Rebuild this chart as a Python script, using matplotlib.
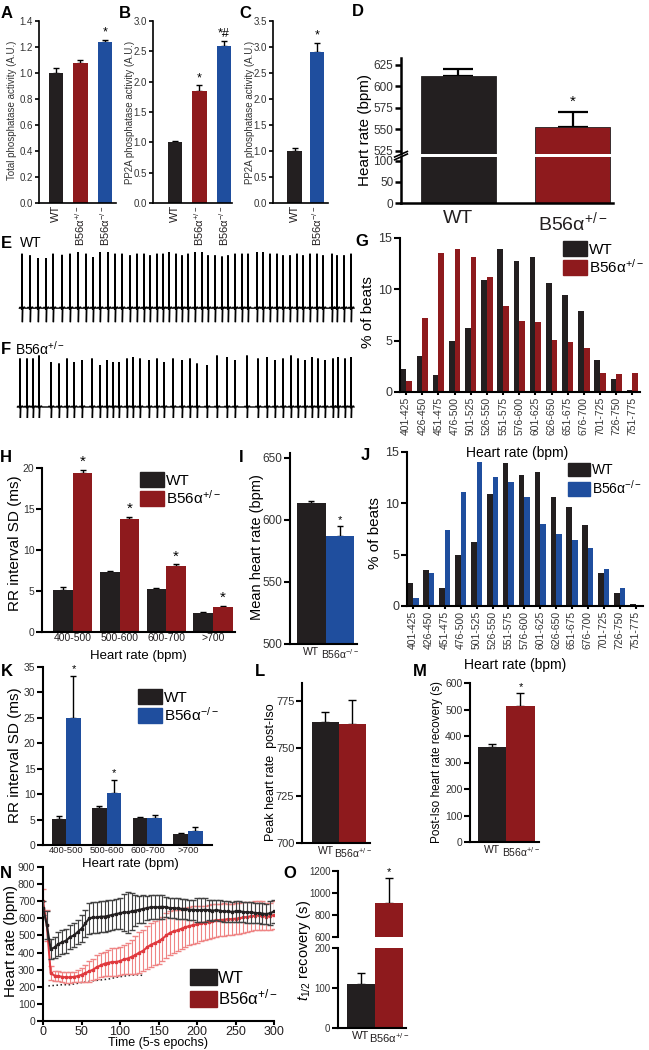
import numpy as np
import matplotlib.pyplot as plt
from matplotlib.patches import Patch

plt.rcParams['font.family'] = ['Liberation Sans', 'DejaVu Sans']
plt.rcParams['mathtext.fontset'] = 'custom'
plt.rcParams['mathtext.rm'] = 'Liberation Sans'
plt.rcParams['mathtext.it'] = 'Liberation Sans:italic'
plt.rcParams['mathtext.bf'] = 'Liberation Sans:bold'

W, H = 649, 1050
BLACK = '#231f20'
RED = '#8e1a1d'
BLUE = '#1f4e9e'
NRED = '#e0393e'
NRED_ERR = '#ef8585'
GREY = '#333333'
HET = 'B56α$^{+/-}$'
KO = 'B56α$^{-/-}$'

# --- A, B, C: phosphatase activity
a_mean = [1.0, 1.08, 1.235]
a_err = [0.035, 0.02, 0.02]
b_mean = [1.0, 1.85, 2.58]
b_err = [0.025, 0.09, 0.09]
c_mean = [1.0, 2.9]
c_err = [0.05, 0.18]

# --- D: heart rate
d_mean = [612, 553]
d_err = [8, 17]

# --- E / F: ECG beats (time, amplitude)
e_beats = [22, 30, 38, 46, 53, 62, 70, 78, 86, 93, 100, 108, 115, 122, 130, 137,
           144, 150, 157, 163, 169, 176, 182, 188, 195, 202, 208, 215, 222, 228,
           235, 242, 248, 257, 263, 270, 277, 283, 290, 297, 303, 310, 317, 323,
           332, 337, 344, 351]
e_amps = [0.97, 0.94, 0.89, 0.89, 0.97, 0.95, 0.97, 1.0, 0.97, 0.91, 1.0, 1.0,
          0.97, 0.97, 0.94, 0.97, 0.97, 0.94, 0.97, 0.97, 1.0, 0.97, 0.94, 0.97,
          1.0, 1.0, 0.94, 0.94, 0.92, 0.94, 0.97, 0.97, 0.97, 1.0, 1.0, 0.97,
          0.97, 0.94, 0.94, 0.97, 0.94, 0.97, 0.97, 0.94, 0.97, 0.94, 0.94, 0.97]
f_beats = [20, 27, 33, 39, 51, 59, 67, 74, 82, 92, 100, 107, 113, 119, 127, 133,
           140, 149, 157, 164, 173, 182, 190, 197, 207, 217, 227, 235, 247, 258,
           267, 275, 283, 291, 298, 305, 312, 318, 325, 333, 338, 345, 351]
f_amps = [0.97, 0.97, 0.97, 1.03, 0.9, 0.87, 0.97, 0.9, 0.94, 0.97, 0.84, 0.94,
          0.9, 0.9, 0.97, 1.0, 0.97, 0.94, 0.97, 0.9, 0.97, 0.94, 0.97, 0.87,
          0.84, 1.03, 1.0, 0.94, 1.03, 0.97, 1.0, 0.94, 0.97, 1.03, 0.97, 0.94,
          1.0, 0.97, 0.94, 0.97, 1.0, 0.97, 1.0]

# --- G / J: heart rate histograms
hr_bins = ['401-425', '426-450', '451-475', '476-500', '501-525', '526-550',
           '551-575', '576-600', '601-625', '626-650', '651-675', '676-700',
           '701-725', '726-750', '751-775']
g_wt = [2.24, 3.47, 1.69, 4.93, 6.23, 10.88, 13.96, 12.73, 13.15, 10.62, 9.42,
        7.92, 3.15, 1.3, 0.16]
g_het = [1.04, 7.2, 13.5, 13.96, 13.15, 11.2, 8.34, 6.95, 6.79, 5.1, 4.9, 4.29,
         1.85, 1.75, 1.85]
j_wt = [2.2, 3.46, 1.72, 4.96, 6.22, 10.88, 13.97, 12.73, 13.1, 10.6, 9.6, 7.9,
        3.17, 1.3, 0.2]
j_ko = [0.75, 3.17, 7.45, 11.1, 14.0, 12.6, 12.08, 10.6, 8.0, 7.0, 6.4, 5.67,
        3.63, 1.72, 0.0]

# --- H / K: RR interval SD
rr_groups = ['400-500', '500-600', '600-700', '>700']
h_wt = [5.1, 7.3, 5.2, 2.3]
h_wt_err = [0.4, 0.2, 0.2, 0.1]
h_het = [19.4, 13.8, 8.1, 3.1]
h_het_err = [0.4, 0.25, 0.15, 0.1]
k_wt = [5.2, 7.3, 5.3, 2.2]
k_wt_err = [0.5, 0.3, 0.3, 0.2]
k_ko = [25.0, 10.3, 5.3, 2.7]
k_ko_err = [8.3, 2.5, 0.6, 0.9]

# --- I: mean heart rate
i_mean = [614, 587]
i_err = [1.5, 8]

# --- L, M, O: isoproterenol
l_mean = [764, 763]
l_err = [5, 12.5]
m_mean = [360, 512]
m_err = [11, 52]
o_mean = [110, 909]
o_err = [27, 227]

# --- N: heart rate time course (every 5 epochs)
epochs = np.arange(0, 301, 5)
wt_mean = [660, 560, 420, 430, 450, 460, 470, 490, 500, 520,
           540, 570, 600, 605, 605, 610, 610, 615, 620, 625,
           630, 635, 635, 640, 645, 650, 655, 660, 665, 665,
           665, 668, 665, 660, 660, 658, 655, 655, 650, 650,
           648, 648, 650, 648, 645, 648, 645, 640, 640, 638,
           640, 640, 638, 635, 635, 632, 630, 628, 625, 630, 640]
wt_err = [40, 80, 60, 60, 70, 70, 70, 70, 70, 70,
          80, 80, 90, 90, 90, 90, 90, 90, 90, 90,
          90, 110, 120, 110, 90, 80, 80, 70, 70, 70,
          70, 70, 60, 60, 60, 60, 60, 60, 60, 60,
          70, 70, 70, 60, 60, 60, 60, 60, 60, 60,
          60, 60, 60, 60, 60, 60, 60, 60, 60, 70, 70]
het_mean = [700, 560, 280, 265, 262, 258, 255, 255, 258, 262,
            270, 280, 290, 300, 315, 325, 335, 340, 345, 345,
            350, 360, 365, 375, 385, 400, 410, 430, 445, 455,
            465, 480, 500, 515, 525, 530, 540, 548, 555, 560,
            565, 570, 575, 580, 585, 588, 590, 592, 595, 595,
            598, 600, 605, 608, 612, 615, 618, 615, 610, 612, 620]
het_err = [70, 90, 40, 30, 30, 30, 30, 30, 30, 35,
           40, 50, 60, 60, 70, 70, 70, 75, 80, 80,
           80, 85, 90, 100, 110, 120, 120, 125, 130, 130,
           130, 130, 130, 130, 125, 120, 120, 115, 110, 110,
           110, 105, 100, 100, 100, 95, 95, 95, 90, 90,
           90, 90, 90, 90, 85, 85, 85, 85, 80, 80, 80]
dot_epochs = [7, 15, 25, 35, 45, 55, 65, 75, 85, 95, 105, 115, 125, 130]
dot_vals = [205, 208, 212, 212, 220, 230, 235, 240, 245, 255, 262, 268, 270, 265]


fig = plt.figure(figsize=(W / 100, H / 100), dpi=100)


def add_ax(l, t, r, b):
    return fig.add_axes([l / W, 1 - b / H, (r - l) / W, (b - t) / H])


def ftext(x, y, s, **kw):
    return fig.text(x / W, 1 - y / H, s, **kw)


def style(ax, lw=1.2, size=7, color=GREY):
    for s in ['top', 'right']:
        ax.spines[s].set_visible(False)
    for s in ['left', 'bottom']:
        ax.spines[s].set_linewidth(lw)
    ax.tick_params(width=lw, length=3, labelsize=size, labelcolor=color,
                   direction='out', pad=1.5)


def bars(ax, x, means, errs, colors, width, capsize, lw=1.0):
    ax.bar(x, means, width, color=colors, zorder=2)
    ax.errorbar(x, means, yerr=[np.zeros(len(errs)), errs], fmt='none',
                ecolor='k', elinewidth=lw, capsize=capsize, capthick=lw, zorder=1)


def legend(color2, label2, x, y, fs=11):
    handles = [Patch(color=BLACK), Patch(color=color2)]
    fig.legend(handles, ['WT', label2], loc='upper left',
               bbox_to_anchor=(x / W, 1 - y / H), frameon=False, fontsize=fs,
               handlelength=1.6, handleheight=1.1, handletextpad=0.1,
               labelspacing=0.1, borderpad=0, borderaxespad=0)


def star(ax, x, y, s='*', fs=9):
    ax.text(x, y, s, ha='center', va='bottom', fontsize=fs)


# ---------------- A
ax = add_ax(39, 21, 116, 203)
style(ax)
bars(ax, [0, 1, 2], a_mean, a_err, [BLACK, RED, BLUE], 0.6, 2.5)
ax.set_xlim(-0.69, 2.45)
ax.set_ylim(0, 1.4)
ax.set_yticks(np.arange(0, 1.41, 0.2))
ax.set_yticklabels(['%.1f' % v for v in np.arange(0, 1.41, 0.2)])
ax.set_xticks([0, 1, 2])
ax.set_xticklabels(['WT', HET, KO], rotation=90, fontsize=8, color=BLACK)
ax.tick_params(axis='x', length=0)
star(ax, 2, a_mean[2] + a_err[2] + 0.01)
ftext(12, 110, 'Total phosphatase activity (A.U.)', rotation=90, ha='center',
      va='center', fontsize=7, color=GREY)

# ---------------- B
ax = add_ax(153, 21, 232, 203)
style(ax)
bars(ax, [0, 1, 2], b_mean, b_err, [BLACK, RED, BLUE], 0.6, 2.5)
ax.set_xlim(-0.9, 2.33)
ax.set_ylim(0, 3.0)
ax.set_yticks(np.arange(0, 3.01, 0.5))
ax.set_yticklabels(['%.1f' % v for v in np.arange(0, 3.01, 0.5)])
ax.set_xticks([0, 1, 2])
ax.set_xticklabels(['WT', HET, KO], rotation=90, fontsize=8, color=BLACK)
ax.tick_params(axis='x', length=0)
star(ax, 1, b_mean[1] + b_err[1] + 0.02)
star(ax, 2, b_mean[2] + b_err[2] + 0.02, '*#')
ftext(130, 112, 'PP2A phosphatase activity (A.U.)', rotation=90, ha='center',
      va='center', fontsize=7, color=GREY)

# ---------------- C
ax = add_ax(273, 21, 328, 203)
style(ax)
bars(ax, [0, 1], c_mean, c_err, [BLACK, BLUE], 0.65, 2.5)
ax.set_xlim(-0.96, 1.49)
ax.set_ylim(0, 3.5)
ax.set_yticks(np.arange(0, 3.51, 0.5))
ax.set_yticklabels(['%.1f' % v for v in np.arange(0, 3.51, 0.5)])
ax.set_xticks([0, 1])
ax.set_xticklabels(['WT', KO], rotation=90, fontsize=8, color=BLACK)
ax.tick_params(axis='x', length=0)
star(ax, 1, c_mean[1] + c_err[1] + 0.03)
ftext(250, 112, 'PP2A phosphatase activity (A.U.)', rotation=90, ha='center',
      va='center', fontsize=7, color=GREY)

# ---------------- D (broken axis)
ax_u = add_ax(401, 58, 613, 154)
ax_l = add_ax(401, 157, 613, 203)
for a in (ax_u, ax_l):
    style(a, lw=1.8, size=8.5)
    a.tick_params(length=4)
    a.bar([0, 1], d_mean, 0.66, color=[BLACK, RED], edgecolor=BLACK,
          linewidth=0.6, zorder=2)
    a.set_xlim(-0.504, 1.355)
ax_u.errorbar([0, 1], d_mean, yerr=[[0, 0], d_err], fmt='none', ecolor='k',
              elinewidth=1.6, capsize=11, capthick=1.6, zorder=1)
ax_u.set_ylim(521.5, 633)
ax_u.set_yticks([525, 550, 575, 600, 625])
ax_u.spines['bottom'].set_visible(False)
ax_u.set_xticks([])
ax_l.set_ylim(0, 109.5)
ax_l.set_yticks([0, 50, 100])
ax_l.set_xticks([0, 1])
ax_l.set_xticklabels(['WT', HET], fontsize=14, color=BLACK)
ax_l.tick_params(axis='x', length=0, pad=5)
star(ax_u, 1, d_mean[1] + d_err[1] + 4, fs=11)
ax_u.plot([-0.03, 0.03], [-0.06, 0.0], transform=ax_u.transAxes, color='k',
          lw=1.2, clip_on=False)
ax_l.plot([-0.03, 0.03], [1.0, 1.12], transform=ax_l.transAxes, color='k',
          lw=1.2, clip_on=False)
ftext(365, 130, 'Heart rate (bpm)', rotation=90, ha='center', va='center',
      fontsize=11)


# ---------------- E / F traces
def ecg(ax, beats, amps, depth):
    # shape of one beat around its R peak: (offset, level); 'R' = peak, 'S' = trough
    shape = [(-2.6, 0.0), (-1.9, 0.02), (-1.2, 0.0), (-0.3, -0.02), (0.0, 'R'),
             (0.4, 'S'), (0.8, 0.02), (1.6, 0.0), (2.4, 0.025), (3.0, 0.0)]
    xs, ys = [], []
    for b, a in zip(beats, amps):
        for ox, oy in shape:
            xs.append(b + ox)
            if oy == 'R':
                ys.append(a)
            elif oy == 'S':
                ys.append(-depth)
            else:
                ys.append(oy)
    ax.plot(xs, ys, color='k', lw=1.0, solid_joinstyle='miter')
    ax.set_xlim(10, 355)
    ax.axis('off')


ax = add_ax(10, 245, 355, 325)
ecg(ax, e_beats, e_amps, 0.25)
ax.set_ylim(-0.30, 1.125)
ax = add_ax(10, 350, 355, 422)
ecg(ax, f_beats, f_amps, 0.22)
ax.set_ylim(-0.30, 1.14)
ftext(20, 243, 'WT', fontsize=10, va='center')
ftext(15, 349, HET, fontsize=10, va='center')


# ---------------- G / J histograms
def hist_panel(ax, wt, other, color, lw=1.5):
    style(ax, lw=lw, size=7.5)
    x = np.arange(len(hr_bins))
    ax.bar(x - 0.175, wt, 0.35, color=BLACK)
    ax.bar(x + 0.175, other, 0.35, color=color)
    ax.set_ylim(0, 15)
    ax.set_yticks([0, 5, 10, 15])
    ax.set_xlim(-0.38, 14.47)
    ax.set_xticks(x)
    ax.set_xticklabels(hr_bins, rotation=90, fontsize=7.5)
    ax.tick_params(axis='y', labelsize=9, length=4)
    ax.tick_params(axis='x', length=2)


ax = add_ax(400, 238, 640, 392)
hist_panel(ax, g_wt, g_het, RED)
ftext(368, 312, '% of beats', rotation=90, ha='center', va='center', fontsize=11)
ftext(517, 453, 'Heart rate (bpm)', ha='center', va='center', fontsize=10)
legend(RED, HET, 563, 241)

ax = add_ax(407, 452, 643, 606)
hist_panel(ax, j_wt, j_ko, BLUE)
ftext(375, 533, '% of beats', rotation=90, ha='center', va='center', fontsize=11)
ftext(515, 665, 'Heart rate (bpm)', ha='center', va='center', fontsize=10)
legend(BLUE, KO, 568, 463, fs=10)


# ---------------- H / K RR interval SD
def rr_panel(ax, wt, wt_err, other, other_err, color, width, fs=7.5):
    style(ax, lw=1.5, size=7.5)
    x = np.arange(len(rr_groups))
    bars(ax, x - width / 2, wt, wt_err, BLACK, width, 2.5)
    bars(ax, x + width / 2, other, other_err, color, width, 2.5)
    ax.set_xticks(x)
    ax.set_xticklabels(rr_groups, fontsize=fs, color=BLACK)
    ax.tick_params(axis='x', length=0, pad=1)
    ax.tick_params(axis='y', length=4)
    return x


ax = add_ax(42, 468, 235, 632)
x = rr_panel(ax, h_wt, h_wt_err, h_het, h_het_err, RED, 0.42)
ax.set_xlim(-0.66, 3.47)
ax.set_ylim(0, 20)
ax.set_yticks([0, 5, 10, 15, 20])
for xi, m, e in zip(x, h_het, h_het_err):
    star(ax, xi + 0.21, m + e + 0.1, fs=11)
ftext(15, 543, 'RR interval SD (ms)', rotation=90, ha='center', va='center',
      fontsize=11)
ftext(138, 656, 'Heart rate (bpm)', ha='center', va='center', fontsize=9.5)
legend(RED, HET, 140, 472)

ax = add_ax(43, 667, 212, 845)
x = rr_panel(ax, k_wt, k_wt_err, k_ko, k_ko_err, BLUE, 0.36, fs=6.8)
ax.set_xlim(-0.57, 3.59)
ax.set_ylim(0, 35)
ax.set_yticks(np.arange(0, 36, 5))
for i in (0, 1):
    star(ax, x[i] + 0.18, k_ko[i] + k_ko_err[i] + 0.3, fs=8)
ftext(15, 755, 'RR interval SD (ms)', rotation=90, ha='center', va='center',
      fontsize=11)
ftext(130, 864, 'Heart rate (bpm)', ha='center', va='center', fontsize=9.5)
legend(BLUE, KO, 138, 689)

# ---------------- I
ax = add_ax(290, 453, 357, 644)
style(ax, lw=1.5, size=8.5)
bars(ax, [0, 1], i_mean, i_err, [BLACK, BLUE], 1.0, 2.5)
ax.set_xlim(-0.75, 1.6)
ax.set_ylim(500, 654)
ax.set_yticks([500, 550, 600, 650])
ax.set_xticks([0, 1])
ax.set_xticklabels(['WT', KO], fontsize=7.5, color=BLACK)
ax.tick_params(axis='x', length=0, pad=2)
ax.tick_params(axis='y', length=4)
star(ax, 1, i_mean[1] + i_err[1] + 1, fs=8)
ftext(257, 547, 'Mean heart rate (bpm)', rotation=90, ha='center', va='center',
      fontsize=10.5)

# ---------------- L
ax = add_ax(302, 683, 370, 843)
style(ax, lw=1.5, size=8)
bars(ax, [0, 1], l_mean, l_err, [BLACK, RED], 1.0, 3)
ax.set_xlim(-0.87, 1.65)
ax.set_ylim(700, 784.5)
ax.set_yticks([700, 725, 750, 775])
ax.set_xticks([0, 1])
ax.set_xticklabels(['WT', HET], fontsize=7.5, color=BLACK)
ax.tick_params(axis='x', length=0, pad=2)
ax.tick_params(axis='y', length=4)
ftext(271, 772, 'Peak heart rate  post-Iso', rotation=90, ha='center',
      va='center', fontsize=9)

# ---------------- M
ax = add_ax(470, 683, 539, 842)
style(ax, lw=1.5, size=7.5)
bars(ax, [0, 1], m_mean, m_err, [BLACK, RED], 1.0, 3)
ax.set_xlim(-0.8, 1.66)
ax.set_ylim(0, 600)
ax.set_yticks(np.arange(0, 601, 100))
ax.set_xticks([0, 1])
ax.set_xticklabels(['WT', HET], fontsize=7.5, color=BLACK)
ax.tick_params(axis='x', length=0, pad=2)
ax.tick_params(axis='y', length=4)
star(ax, 1, m_mean[1] + m_err[1] + 3, fs=8)
ftext(437, 762, 'Post-Iso heart rate recovery (s)', rotation=90, ha='center',
      va='center', fontsize=8.5)

# ---------------- N
ax = add_ax(43, 867, 274, 1021)
style(ax, lw=1.5, size=7.5)
ax.errorbar(epochs, het_mean, yerr=het_err, fmt='-s', color=NRED, ms=2,
            lw=1.5, ecolor=NRED_ERR, elinewidth=0.8, capsize=2, zorder=2)
ax.errorbar(epochs, wt_mean, yerr=wt_err, fmt='-s', color=BLACK, ms=2,
            lw=1.5, ecolor='#444444', elinewidth=0.8, capsize=2, zorder=3)
ax.plot(dot_epochs, dot_vals, ':', color=BLACK, lw=1.1, zorder=1)
ax.set_xlim(0, 300)
ax.set_ylim(0, 900)
ax.set_yticks(np.arange(0, 901, 100))
ax.set_xticks(np.arange(0, 301, 50))
ax.tick_params(axis='x', labelsize=9, labelcolor=BLACK, length=3, pad=0.5)
ax.tick_params(axis='y', length=4)
ftext(158, 1043, 'Time (5-s epochs)', ha='center', va='center', fontsize=9)
ftext(11, 941, 'Heart rate (bpm)', rotation=90, ha='center', va='center',
      fontsize=11)
legend(RED, HET, 190, 969, fs=12)

# ---------------- O (broken axis)
ax_u = add_ax(338, 871, 406, 937)
ax_l = add_ax(338, 948, 406, 1028)
for a in (ax_u, ax_l):
    style(a, lw=1.5, size=7)
    a.tick_params(axis='y', length=4)
    a.set_xlim(-0.82, 1.6)
    a.bar([0, 1], o_mean, 1.0, color=[BLACK, RED], zorder=2)
ax_u.errorbar([1], [o_mean[1]], yerr=[[0], [o_err[1]]], fmt='none', ecolor='k',
              elinewidth=1, capsize=3, capthick=1, zorder=1)
ax_l.errorbar([0], [o_mean[0]], yerr=[[0], [o_err[0]]], fmt='none', ecolor='k',
              elinewidth=1, capsize=3, capthick=1, zorder=1)
ax_u.set_ylim(600, 1200)
ax_u.set_yticks([600, 800, 1000, 1200])
ax_u.spines['bottom'].set_visible(False)
ax_u.set_xticks([])
ax_l.set_ylim(0, 200)
ax_l.set_yticks([0, 100, 200])
ax_l.set_xticks([0, 1])
ax_l.set_xticklabels(['WT', HET], fontsize=8, color=BLACK)
ax_l.tick_params(axis='x', length=0, pad=2)
star(ax_u, 1, o_mean[1] + o_err[1] + 5, fs=8)
ftext(304, 950, '$t_{1/2}$ recovery (s)', rotation=90, ha='center', va='center',
      fontsize=10.5)

# ---------------- panel letters
letters = [('A', 7, 13), ('B', 125, 13), ('C', 245, 13), ('D', 358, 12),
           ('E', 6, 243), ('F', 6, 349), ('G', 362, 242), ('H', 6, 457),
           ('I', 241, 457), ('J', 365, 455), ('K', 7, 672), ('L', 260, 672),
           ('M', 420, 672), ('N', 6, 873), ('O', 290, 873)]
for s, x, y in letters:
    ftext(x, y, s, fontsize=12, fontweight='bold', ha='center', va='center')

fig.savefig('out.png', dpi=100)
